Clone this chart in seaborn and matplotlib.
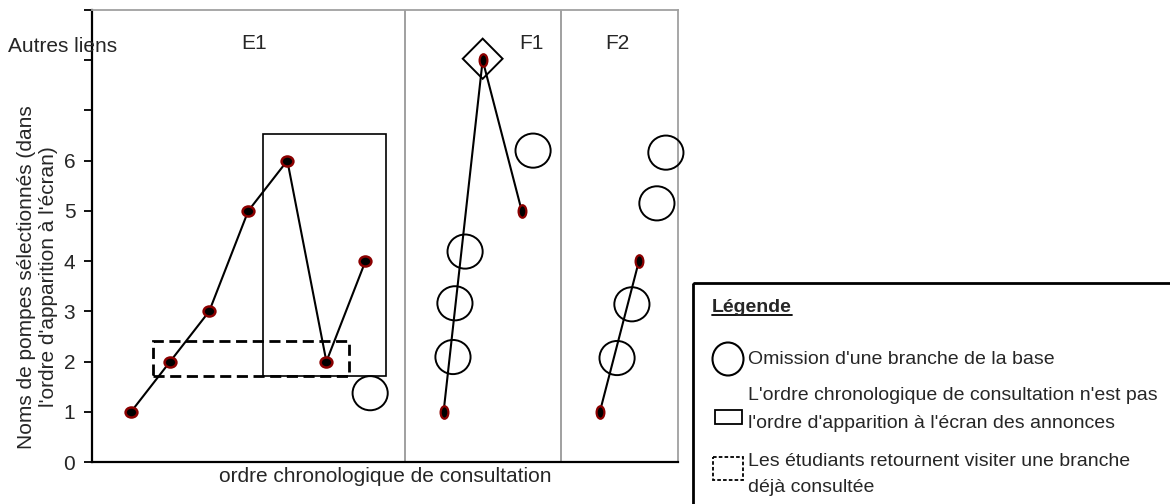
import numpy as np
import pandas as pd
import matplotlib
matplotlib.use("Agg")
import matplotlib.pyplot as plt
from matplotlib.patches import Ellipse, Rectangle, Polygon
from matplotlib.path import Path
from matplotlib.transforms import Affine2D, blended_transform_factory
import seaborn as sns

# ---------------- data ----------------
panel_names = ["E1", "F1", "F2"]
e1_x = [1, 2, 3, 4, 5, 6, 7]
e1_y = [1, 2, 3, 5, 6, 2, 4]
f1_x = [9, 10, 11]
f1_y = [1, 8, 5]
f2_x = [13, 14]
f2_y = [1, 4]
omit_x = [7.12, 9.55, 9.29, 9.24, 11.29, 13.44, 13.82, 14.46, 14.69]
omit_y = [1.37, 4.19, 3.16, 2.09, 6.20, 2.07, 3.14, 5.15, 6.16]
other_links_x = [10]
other_links_y = [8.03]
ytick_values = [0, 1, 2, 3, 4, 5, 6, 7, 8, 9]
ytick_labels = ["0", "1", "2", "3", "4", "5", "6", "", "", ""]
panel_dividers = [8, 12]
panel_label_x = [4.16, 11.26, 13.45]
order_box = [4.38, 1.71, 7.52, 6.54]      # x0, y0, x1, y1
revisit_box = [1.56, 1.71, 6.58, 2.41]    # x0, y0, x1, y1

x_label = "ordre chronologique de consultation"
y_label = "Noms de pompes sélectionnés (dans\nl'ordre d'apparition à l'écran)"
other_links_label = "Autres liens"
legend_title = "Légende"
legend_items = [
    "Omission d'une branche de la base",
    "L'ordre chronologique de consultation n'est pas",
    "l'ordre d'apparition à l'écran des annonces",
    "Les étudiants retournent visiter une branche",
    "déjà consultée",
]

# ---------------- style ----------------
sns.set_style("white")
plt.rcParams["font.family"] = ["Liberation Sans", "DejaVu Sans"]

W, H = 1170, 504
fig = plt.figure(figsize=(W / 100, H / 100), dpi=100)
ax = fig.add_axes([92 / W, 42 / H, 586 / W, 452 / H])

df_e = pd.DataFrame({"x": e1_x, "y": e1_y, "panel": "E1"})
df_f = pd.concat([
    pd.DataFrame({"x": f1_x, "y": f1_y, "panel": "F1"}),
    pd.DataFrame({"x": f2_x, "y": f2_y, "panel": "F2"}),
])

circ = Path.unit_circle()
mk_e = circ.transformed(Affine2D().scale(1.0, 0.85))
mk_f = circ.transformed(Affine2D().scale(0.62, 1.0))

sns.lineplot(data=df_e, x="x", y="y", units="panel", estimator=None, ax=ax,
             color="black", linewidth=1.5, marker=mk_e, markersize=8.5,
             markerfacecolor="black", markeredgecolor="#8b0000",
             markeredgewidth=1.8, zorder=4, legend=False)
sns.lineplot(data=df_f, x="x", y="y", units="panel", estimator=None, ax=ax,
             color="black", linewidth=1.5, marker=mk_f, markersize=9,
             markerfacecolor="black", markeredgecolor="#8b0000",
             markeredgewidth=1.6, zorder=4, legend=False)

# omission circles
for cx, cy in zip(omit_x, omit_y):
    ax.add_patch(Ellipse((cx, cy), 0.9, 0.68, fill=False, edgecolor="black",
                         linewidth=1.4, zorder=3, clip_on=False))

# "autres liens" diamond
for dx_, dy_ in zip(other_links_x, other_links_y):
    ax.add_patch(Polygon([(dx_ - 0.51, dy_), (dx_, dy_ + 0.4), (dx_ + 0.51, dy_),
                          (dx_, dy_ - 0.4)], closed=True, fill=False,
                         edgecolor="black", linewidth=1.4, zorder=3))

# boxes
ax.add_patch(Rectangle((order_box[0], order_box[1]), order_box[2] - order_box[0],
                       order_box[3] - order_box[1], fill=False,
                       edgecolor="black", linewidth=1.2, zorder=2))
ax.add_patch(Rectangle((revisit_box[0], revisit_box[1]),
                       revisit_box[2] - revisit_box[0],
                       revisit_box[3] - revisit_box[1], fill=False,
                       edgecolor="black", linewidth=2.0,
                       linestyle=(0, (4, 2)), zorder=2))

# panel dividers
for xd in panel_dividers:
    ax.axvline(xd, color="#a0a0a0", linewidth=1.4, zorder=1)

# panel labels
for name, px in zip(panel_names, panel_label_x):
    ax.text(px, 8.33, name, ha="center", va="center", fontsize=15)

tr = blended_transform_factory(ax.transAxes, ax.transData)
ax.text(-0.0495, 8.27, other_links_label, transform=tr, ha="center",
        va="center", fontsize=15, clip_on=False)

ax.set_xlim(0, 15)
ax.set_ylim(0, 9)
ax.set_xticks([])
ax.set_yticks(ytick_values)
ax.set_yticklabels(ytick_labels)
ax.tick_params(axis="y", direction="out", length=6, width=1.3, pad=6,
               labelsize=15, left=True, color="black")
ax.set_xlabel(x_label, fontsize=15)
ax.xaxis.set_label_coords(0.5, -0.012)
ax.set_ylabel("")

for s in ["left", "bottom"]:
    ax.spines[s].set_color("black")
    ax.spines[s].set_linewidth(1.6)
for s in ["top", "right"]:
    ax.spines[s].set_color("#a0a0a0")
    ax.spines[s].set_linewidth(1.3)

fig.text(37.5 / W, 1 - 277 / H, y_label, rotation=90, ha="center",
         va="center", fontsize=15, multialignment="center", linespacing=1.15)

# ---------------- legend box (figure pixel overlay) ----------------
lax = fig.add_axes([0, 0, 1, 1])
lax.set_xlim(0, W)
lax.set_ylim(H, 0)
lax.axis("off")
lax.add_patch(Rectangle((693, 283), 520, 260, fill=False, edgecolor="black",
                        linewidth=2.0))
lax.text(712, 307, legend_title, fontsize=14, fontweight="bold",
         ha="left", va="center")
lax.plot([712, 792], [315, 315], color="black", linewidth=1.3)
lax.add_patch(Ellipse((728, 359), 31, 33, fill=False, edgecolor="black",
                      linewidth=1.5))
lax.text(748, 359, legend_items[0], fontsize=14, ha="left", va="center")
lax.add_patch(Rectangle((715, 410), 27, 14, fill=False, edgecolor="black",
                        linewidth=1.3))
lax.text(748, 395, legend_items[1], fontsize=14, ha="left", va="center")
lax.text(748, 424, legend_items[2], fontsize=14, ha="left", va="center")
lax.add_patch(Rectangle((713, 457), 30, 23, fill=False, edgecolor="black",
                        linewidth=1.3, linestyle=(0, (2, 1.2))))
lax.text(748, 462, legend_items[3], fontsize=14, ha="left", va="center")
lax.text(748, 488, legend_items[4], fontsize=14, ha="left", va="center")

fig.savefig("out.png", dpi=100)
